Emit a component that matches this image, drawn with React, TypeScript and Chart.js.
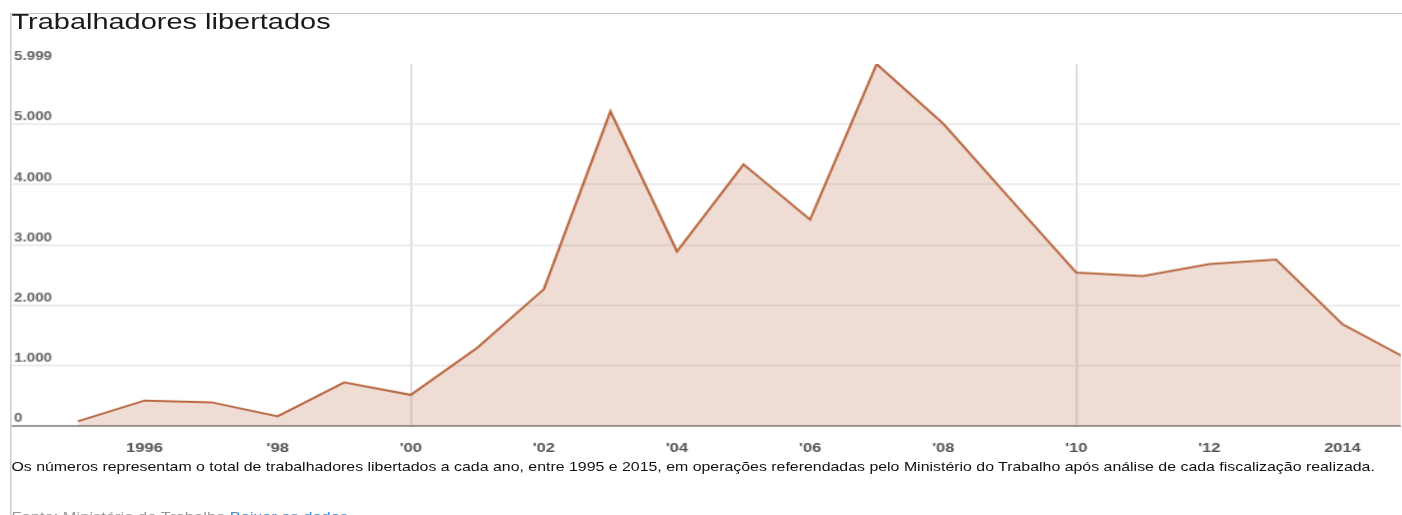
import React, { useEffect, useRef } from "react";
import { Chart, registerables } from "chart.js";

Chart.register(...registerables);

// trabalhadores libertados por ano
const years = [1995, 1996, 1997, 1998, 1999, 2000, 2001, 2002, 2003, 2004, 2005, 2006, 2007, 2008, 2009, 2010, 2011, 2012, 2013, 2014, 2015];
const workersFreed = [75, 419, 391, 158, 719, 513, 1295, 2266, 5216, 2892, 4334, 3419, 5999, 5012, 3772, 2542, 2482, 2682, 2759, 1684, 1095];

const xTicks = [1996, 1998, 2000, 2002, 2004, 2006, 2008, 2010, 2012, 2014];
const xTickLabels = ["1996", "'98", "'00", "'02", "'04", "'06", "'08", "'10", "'12", "2014"];
const xGridYears = [2000, 2010];

const yTicks = [0, 1000, 2000, 3000, 4000, 5000, 5999];
const yTickLabels = ["0", "1.000", "2.000", "3.000", "4.000", "5.000", "5.999"];

const FONT = '"Liberation Sans", Arial, sans-serif';
const STRETCH = 1.27; // the source image is stretched horizontally

function AreaChart(): JSX.Element {
  const chartRef = useRef<HTMLCanvasElement | null>(null);
  const chartInstance = useRef<Chart<"line"> | null>(null);

  useEffect(() => {
    if (!chartRef.current) return;
    if (chartInstance.current) chartInstance.current.destroy();

    const ctx = chartRef.current.getContext("2d");
    if (!ctx) return;

    chartInstance.current = new Chart(ctx, {
      type: "line",
      data: {
        datasets: [
          {
            label: "Trabalhadores libertados",
            data: years.map((y, i) => ({ x: y, y: workersFreed[i] })),
            borderColor: "#b8673f",
            borderWidth: 2,
            backgroundColor: "rgba(183, 105, 74, 0.23)",
            fill: "origin",
            pointRadius: 0,
            tension: 0,
          },
        ],
      },
      options: {
        animation: false,
        responsive: true,
        maintainAspectRatio: false,
        layout: { padding: { top: 24, bottom: 5, left: 0, right: 0 } },
        plugins: { legend: { display: false }, tooltip: { enabled: false } },
        scales: {
          x: {
            type: "linear",
            min: 1994,
            max: 2014.876,
            afterBuildTicks: (scale) => {
              scale.ticks = xTicks.map((v) => ({ value: v }));
            },
            ticks: {
              padding: 15,
              color: "#555",
              font: { family: FONT, size: 13, weight: "bold" },
              maxRotation: 0,
              autoSkip: false,
              callback: (_v, i) => xTickLabels[i],
            },
            grid: {
              drawTicks: false,
              lineWidth: 1.5,
              color: (c) => (xGridYears.includes(c.tick?.value) ? "#dadada" : "rgba(0,0,0,0)"),
            },
            border: { display: false },
          },
          y: {
            min: 0,
            max: 5999,
            afterBuildTicks: (scale) => {
              scale.ticks = yTicks.map((v) => ({ value: v }));
            },
            afterFit: (scale) => {
              scale.width = 0;
            },
            ticks: {
              mirror: true,
              padding: 2,
              labelOffset: -7,
              color: "#666",
              font: { family: FONT, size: 12, weight: "bold" },
              callback: (_v, i) => yTickLabels[i],
            },
            grid: {
              drawTicks: false,
              lineWidth: (c) => (c.tick?.value === 0 ? 2 : 1.6),
              color: (c) =>
                c.tick?.value === 0 ? "#9a9a9a" : c.tick?.value === 5999 ? "rgba(0,0,0,0)" : "#e6e6e6",
            },
            border: { display: false },
          },
        },
      },
    });

    return () => {
      if (chartInstance.current) {
        chartInstance.current.destroy();
        chartInstance.current = null;
      }
    };
  }, []);

  return (
    <div style={{ position: "absolute", left: 8, top: 40, width: 1096, height: 435.5 }}>
      <canvas ref={chartRef}></canvas>
    </div>
  );
}

export default function App(): JSX.Element {
  return (
    <div
      style={{
        position: "fixed",
        left: 0,
        top: 0,
        width: 1402,
        height: 515,
        overflow: "hidden",
        background: "#fff",
        fontFamily: FONT,
      }}
    >
      <div
        style={{
          position: "absolute",
          left: 0,
          top: 0,
          width: 1104,
          height: 515,
          transform: `scaleX(${STRETCH})`,
          transformOrigin: "0 0",
        }}
      >
        <div style={{ position: "absolute", left: 8, top: 13, right: 0, height: 1, background: "#c4c4c4" }} />
        <div style={{ position: "absolute", left: 8, top: 13, bottom: 0, width: 1, background: "#c4c4c4" }} />
        <div style={{ position: "absolute", left: 9, top: 10, fontSize: 22.8, lineHeight: "22px", color: "#1a1a1a" }}>
          Trabalhadores libertados
        </div>
        <AreaChart />
        <div style={{ position: "absolute", left: 9, top: 460, fontSize: 12.52, lineHeight: "15px", color: "#111", whiteSpace: "nowrap" }}>
          Os números representam o total de trabalhadores libertados a cada ano, entre 1995 e 2015, em operações
          referendadas pelo Ministério do Trabalho após análise de cada fiscalização realizada.
        </div>
        <div style={{ position: "absolute", left: 9, top: 509, fontSize: 13, lineHeight: "15px", color: "#999", whiteSpace: "nowrap" }}>
          Fonte: Ministério do Trabalho <span style={{ color: "#3b8bd0" }}>Baixar os dados</span>
        </div>
      </div>
    </div>
  );
}
